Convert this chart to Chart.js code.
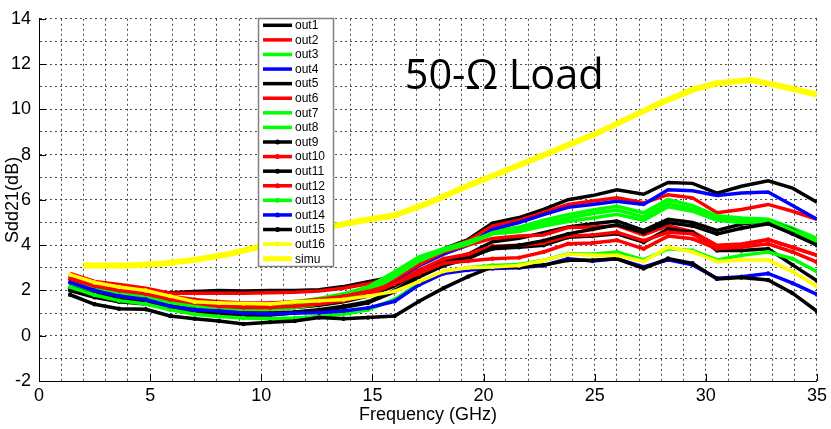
<!DOCTYPE html>
<html><head><meta charset="utf-8">
<script src="https://cdn.jsdelivr.net/npm/chart.js@4.4.1/dist/chart.umd.min.js"></script>
<style>html,body{margin:0;padding:0;background:#fff}canvas{display:block}</style>
</head><body>
<canvas id="c" width="831" height="429"></canvas>
<script>
// Frequencies (GHz) of measured points
const freqs = [1.4,2.5,3.6,4.8,5.9,7.0,8.1,9.2,10.4,11.5,12.6,13.7,14.8,16.0,17.1,18.2,19.3,20.4,21.6,22.7,23.8,24.9,26.0,27.2,28.3,29.4,30.5,31.6,32.8,33.9,35.0];
// Simulation frequencies and values
const simuFreqs = [2,4,5.5,7,8.5,10,11.5,13,14.5,16,17.5,19,20.5,22,23.5,25,26.5,28,29.5,30.5,32,33.5,35];
const simu = [3.1,3.1,3.18,3.35,3.6,3.95,4.4,4.8,5.08,5.32,5.85,6.5,7.1,7.7,8.3,8.9,9.6,10.3,10.9,11.15,11.3,11.0,10.65];

const out1  = [2.45,2.15,2.0,1.95,1.9,1.95,2.0,1.98,2.0,2.0,2.03,2.17,2.39,2.61,3.26,3.84,4.25,4.97,5.22,5.58,6.01,6.19,6.45,6.25,6.77,6.73,6.3,6.6,6.84,6.52,5.9];
const out2  = [2.75,2.4,2.26,2.1,1.88,1.88,1.88,1.88,1.9,1.92,1.98,2.1,2.3,2.55,3.2,3.8,4.2,4.85,5.1,5.45,5.8,5.95,6.09,5.87,6.23,6.09,5.43,5.58,5.8,5.5,5.14];
const out3  = [2.55,2.25,2.05,1.9,1.65,1.5,1.4,1.35,1.4,1.5,1.65,1.85,2.15,2.83,3.48,3.85,4.15,4.6,4.8,5.1,5.35,5.55,5.72,5.43,6.02,5.75,5.3,5.2,5.15,4.75,4.3];
const out4  = [2.47,2.15,1.96,1.81,1.6,1.45,1.38,1.32,1.3,1.35,1.45,1.6,1.85,2.4,3.1,3.6,4.0,4.7,5.0,5.35,5.67,5.8,5.94,5.8,6.45,6.4,6.2,6.3,6.35,5.75,5.15];
const out5  = [2.2,1.9,1.75,1.7,1.5,1.35,1.25,1.2,1.2,1.25,1.35,1.5,1.75,2.2,2.8,3.3,3.6,4.15,4.3,4.55,4.8,4.95,5.07,4.65,5.14,5.0,4.65,4.93,5.08,4.69,4.1];
const out6  = [2.6,2.3,2.12,1.95,1.72,1.55,1.42,1.35,1.35,1.4,1.5,1.7,2.0,2.5,3.15,3.7,4.0,4.3,4.4,4.45,4.78,4.8,4.86,4.45,4.86,4.6,4.0,4.05,4.25,3.9,3.55];
const out7  = [2.4,2.1,1.9,1.75,1.55,1.4,1.28,1.22,1.25,1.35,1.5,1.7,2.0,2.7,3.4,3.8,4.1,4.55,4.7,4.95,5.2,5.4,5.55,5.25,5.85,5.6,5.2,5.1,5.1,4.65,4.2];
const out8  = [2.3,2.0,1.8,1.65,1.45,1.3,1.18,1.12,1.15,1.25,1.4,1.6,1.9,2.6,3.3,3.75,4.05,4.5,4.6,4.85,5.05,5.2,5.36,5.1,5.7,5.5,5.1,5.0,5.05,4.6,4.15];
const out9  = [2.1,1.8,1.6,1.5,1.3,1.15,1.05,1.0,1.0,1.05,1.15,1.3,1.5,2.0,2.65,3.2,3.45,3.84,3.91,4.0,4.35,4.4,4.5,4.13,4.71,4.57,3.77,3.77,3.84,3.13,2.43];
const out10 = [2.5,2.2,2.0,1.85,1.6,1.45,1.3,1.25,1.25,1.3,1.4,1.55,1.8,2.3,2.9,3.4,3.6,3.95,4.0,4.1,4.4,4.45,4.57,4.2,4.57,4.5,3.91,4.01,4.25,3.91,3.55];
const out11 = [2.0,1.7,1.5,1.4,1.2,1.05,0.95,0.9,0.92,1.0,1.1,1.25,1.45,1.95,2.6,3.1,3.4,3.9,4.0,4.2,4.5,4.7,4.9,4.55,5.0,4.85,4.5,4.75,4.95,4.5,4.0];
const out12 = [2.65,2.35,2.15,2.0,1.75,1.6,1.5,1.45,1.45,1.5,1.6,1.75,1.95,2.3,2.75,3.2,3.3,3.4,3.45,3.7,4.06,4.1,4.22,3.84,4.4,4.28,3.84,3.91,4.06,3.7,3.25];
const out13 = [2.15,1.8,1.55,1.4,1.15,0.95,0.85,0.78,0.75,0.78,0.85,0.95,1.15,1.6,2.3,2.8,3.0,3.1,3.15,3.33,3.62,3.6,3.7,3.35,3.84,3.77,3.35,3.55,3.7,3.4,2.83];
const out14 = [2.35,2.0,1.75,1.6,1.3,1.15,1.09,1.0,0.96,1.0,1.01,1.09,1.23,1.52,2.25,2.75,2.9,2.97,3.0,3.1,3.4,3.3,3.4,3.04,3.35,3.13,2.54,2.61,2.75,2.32,1.82];
const out15 = [1.81,1.39,1.19,1.17,0.87,0.75,0.65,0.52,0.6,0.65,0.8,0.75,0.8,0.87,1.52,2.1,2.61,3.04,3.04,3.12,3.33,3.33,3.4,2.97,3.41,3.2,2.51,2.57,2.46,1.88,1.08];
const out16 = [2.7,2.35,2.15,2.0,1.75,1.5,1.45,1.42,1.4,1.5,1.55,1.6,1.75,1.96,2.39,2.85,3.0,3.04,3.1,3.33,3.6,3.55,3.55,3.28,3.91,3.7,3.28,3.35,3.35,2.83,2.17];

const seriesNames = ['out1','out2','out3','out4','out5','out6','out7','out8','out9','out10','out11','out12','out13','out14','out15','out16'];
const seriesValues = [out1,out2,out3,out4,out5,out6,out7,out8,out9,out10,out11,out12,out13,out14,out15,out16];
const seriesColors = ['#000000','#ff0000','#00ff00','#0000ff','#000000','#ff0000','#00ff00','#00ff00','#000000','#ff0000','#000000','#ff0000','#00ff00','#0000ff','#000000','#ffff00'];
const seriesMarkers = [false,false,false,false,false,false,false,false,true,true,true,true,true,true,true,true];
const xTickLabels = [0,5,10,15,20,25,30,35];
const yTickLabels = [-2,0,2,4,6,8,10,12,14];

const NARROW = "'Liberation Sans Narrow','Arial Narrow','Liberation Sans',Arial,sans-serif";

const datasets = seriesNames.map((n,i)=>({
  label:n,
  data: freqs.map((f,j)=>({x:f,y:seriesValues[i][j]})),
  borderColor: seriesColors[i], backgroundColor: seriesColors[i],
  borderWidth: 3.5, pointRadius: seriesMarkers[i]?2.2:0, pointBorderWidth:0,
  marker: seriesMarkers[i], tension:0, order: 20-i
}));
datasets.push({label:'simu', data: simuFreqs.map((f,j)=>({x:f,y:simu[j]})),
  borderColor:'#ffff00', backgroundColor:'#ffff00', borderWidth:6, pointRadius:0, tension:0, order:1, marker:false});

const overlay = {
  id:'overlay',
  afterDatasetsDraw(chart){
    const ctx = chart.ctx, xs = chart.scales.x, ys = chart.scales.y;
    ctx.save();
    // inward tick marks at labelled ticks
    ctx.setLineDash([]);
    ctx.strokeStyle = '#000'; ctx.lineWidth = 1;
    xTickLabels.forEach(v=>{const px=Math.round(xs.getPixelForValue(v))+0.5;
      ctx.beginPath();ctx.moveTo(px,ys.bottom);ctx.lineTo(px,ys.bottom-7);ctx.stroke();});
    yTickLabels.forEach(v=>{const py=Math.round(ys.getPixelForValue(v))+0.5;
      ctx.beginPath();ctx.moveTo(xs.left,py);ctx.lineTo(xs.left+7,py);ctx.stroke();});
    // annotation
    ctx.fillStyle='#000'; ctx.font = "41.5px 'Open Sans','Noto Sans',sans-serif";
    ctx.textBaseline='alphabetic'; ctx.textAlign='left';
    ctx.fillText('50-\u03A9 Load', xs.getPixelForValue(16.45), ys.getPixelForValue(10.9));
    // legend
    const ds = chart.data.datasets;
    const bx=258, by=18, bw=75, bh=248, step=bh/ds.length;
    ctx.fillStyle='#fff'; ctx.fillRect(bx,by,bw,bh);
    ctx.strokeStyle='#808080'; ctx.lineWidth=1.5; ctx.strokeRect(bx+0.5,by+0.5,bw,bh);
    ctx.font = "12px "+NARROW; ctx.textBaseline='middle';
    ds.forEach((d,i)=>{
      const cy = by + step*(i+0.5);
      ctx.strokeStyle=d.borderColor; ctx.lineWidth = d.label==='simu'?5:3.5;
      ctx.beginPath(); ctx.moveTo(bx+5,cy); ctx.lineTo(bx+34,cy); ctx.stroke();
      if(d.marker){ctx.fillStyle=d.borderColor;ctx.beginPath();ctx.arc(bx+19.5,cy,2.5,0,Math.PI*2);ctx.fill();}
      ctx.fillStyle='#000'; ctx.fillText(d.label,bx+37,cy+0.5);
    });
    ctx.restore();
  }
};

new Chart(document.getElementById('c'),{
  type:'line',
  data:{datasets},
  plugins:[overlay],
  options:{
    responsive:false, animation:false, events:[],
    layout:{padding:{top:13,right:11,left:0,bottom:0}},
    plugins:{legend:{display:false},tooltip:{enabled:false}},
    scales:{
      x:{type:'linear',min:0,max:35,
        afterFit(s){s.height=48;},
        ticks:{stepSize:1,autoSkip:false,maxRotation:0,padding:4,color:'#000',
          font:{family:NARROW,size:18},
          callback:v=>xTickLabels.includes(v)?String(v):''},
        grid:{color:'rgba(0,0,0,0.7)',lineWidth:1,drawTicks:false},
        border:{color:'#000',width:1,dash:[2,3]},
        title:{display:true,text:'Frequency (GHz)',color:'#000',font:{family:NARROW,size:18},padding:{top:0,bottom:3}}
      },
      y:{type:'linear',min:-2,max:14,
        afterFit(s){s.width=39;},
        ticks:{stepSize:1,autoSkip:false,padding:8,color:'#000',
          font:{family:NARROW,size:18},
          callback:v=>yTickLabels.includes(v)?String(v):''},
        grid:{color:'rgba(0,0,0,0.7)',lineWidth:1,drawTicks:false},
        border:{color:'#000',width:1,dash:[2,3]},
        title:{display:true,text:'Sdd21(dB)',color:'#000',font:{family:NARROW,size:18},padding:{top:2,bottom:0}}
      }
    }
  }
});
</script>
</body></html>
